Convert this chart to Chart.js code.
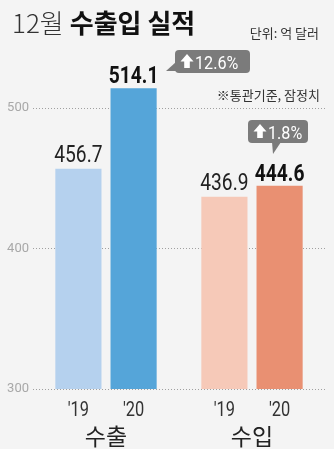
<!DOCTYPE html>
<html>
<head>
<meta charset="utf-8">
<script src="https://cdn.jsdelivr.net/npm/chart.js@4"></script>
<style>
  html, body { margin: 0; padding: 0; background: #f4f4f4; }
  #wrap { width: 334px; height: 449px; position: relative; }
</style>
</head>
<body>
<div id="wrap"><canvas id="c" width="334" height="449"></canvas></div>
<script>
// ── Data ──────────────────────────────────────
const categories = ['수출', '수입'];
const yearLabels = ["'19", "'20"];
const values19 = [456.7, 436.9];
const values20 = [514.1, 444.6];
const changeLabels = ['12.6%', '1.8%'];
const yTicks = [300, 400, 500];

const colors19 = ['#b5d1ee', '#f6c9b8'];
const colors20 = ['#55a5d9', '#e99072'];

const KR = "'Noto Sans CJK KR', 'Noto Sans', sans-serif";
const NUM = "Roboto, 'Noto Sans', sans-serif";

// condensed text helper
function drawNarrow(ctx, text, x, y, font, color, align, sx) {
  ctx.save();
  ctx.font = font;
  ctx.fillStyle = color;
  ctx.textBaseline = 'alphabetic';
  const w = ctx.measureText(text).width * sx;
  let left = x;
  if (align === 'center') left = x - w / 2;
  else if (align === 'right') left = x - w;
  ctx.translate(left, y);
  ctx.scale(sx, 1);
  ctx.textAlign = 'left';
  ctx.fillText(text, 0, 0);
  ctx.restore();
  return w;
}

function roundRect(ctx, x, y, w, h, r) {
  ctx.beginPath();
  ctx.moveTo(x + r, y);
  ctx.lineTo(x + w - r, y);
  ctx.quadraticCurveTo(x + w, y, x + w, y + r);
  ctx.lineTo(x + w, y + h - r);
  ctx.quadraticCurveTo(x + w, y + h, x + w - r, y + h);
  ctx.lineTo(x + r, y + h);
  ctx.quadraticCurveTo(x, y + h, x, y + h - r);
  ctx.lineTo(x, y + r);
  ctx.quadraticCurveTo(x, y, x + r, y);
  ctx.closePath();
}

function upArrow(ctx, x, y) {
  // x,y = top tip
  ctx.beginPath();
  ctx.moveTo(x, y);
  ctx.lineTo(x + 6.5, y + 7.5);
  ctx.lineTo(x + 2.8, y + 7.5);
  ctx.lineTo(x + 2.8, y + 14);
  ctx.lineTo(x - 2.8, y + 14);
  ctx.lineTo(x - 2.8, y + 7.5);
  ctx.lineTo(x - 6.5, y + 7.5);
  ctx.closePath();
  ctx.fillStyle = '#fff';
  ctx.fill();
}

function callout(ctx, bx, by, bw, bh, tail, text) {
  ctx.save();
  ctx.fillStyle = '#7b7b7b';
  roundRect(ctx, bx, by, bw, bh, 4);
  ctx.fill();
  ctx.beginPath();
  ctx.moveTo(tail[0][0], tail[0][1]);
  ctx.lineTo(tail[1][0], tail[1][1]);
  ctx.lineTo(tail[2][0], tail[2][1]);
  ctx.closePath();
  ctx.fill();
  upArrow(ctx, bx + 12, by + 4);
  drawNarrow(ctx, text, bx + 20, by + bh - 4.5, '19px ' + NUM, '#fff', 'left', 0.85);
  ctx.restore();
}

const annotations = {
  id: 'annotations',
  afterDraw(chart) {
    const ctx = chart.ctx;
    const m19 = chart.getDatasetMeta(0).data;
    const m20 = chart.getDatasetMeta(1).data;

    // title
    ctx.save();
    ctx.textBaseline = 'alphabetic';
    ctx.textAlign = 'left';
    ctx.fillStyle = '#333';
    ctx.font = '300 26px ' + KR;
    ctx.fillText('12월', 12, 33);
    const tw = ctx.measureText('12월').width;
    ctx.fillStyle = '#111';
    ctx.font = 'bold 26px ' + KR;
    ctx.fillText('수출입 실적', 12 + tw + 6, 33);
    ctx.font = '13px ' + KR;
    ctx.fillStyle = '#333';
    ctx.textAlign = 'right';
    ctx.fillText('단위: 억 달러', 319, 38);
    ctx.fillText('※통관기준, 잠정치', 320, 100);
    ctx.restore();

    // value labels
    for (let i = 0; i < categories.length; i++) {
      const b19 = m19[i], b20 = m20[i];
      drawNarrow(ctx, values19[i].toFixed(1), b19.x, b19.y - 7, '24px ' + NUM, '#222', 'center', 0.8);
      drawNarrow(ctx, values20[i].toFixed(1), b20.x, b20.y - 5, 'bold 24px ' + NUM, '#111', 'center', 0.8);
      // year labels
      drawNarrow(ctx, yearLabels[0], b19.x, 416, '20px ' + NUM, '#333', 'center', 0.82);
      drawNarrow(ctx, yearLabels[1], b20.x, 416, '20px ' + NUM, '#333', 'center', 0.82);
      // category labels
      ctx.save();
      ctx.font = '23px ' + KR;
      ctx.fillStyle = '#222';
      ctx.textAlign = 'center';
      ctx.textBaseline = 'alphabetic';
      ctx.fillText(categories[i], (b19.x + b20.x) / 2, 445);
      ctx.restore();
    }

    // change callouts
    callout(ctx, 175, 50, 75, 23, [[176, 62], [176, 71], [166, 71]], changeLabels[0]);
    callout(ctx, 248, 120, 60, 23, [[272, 142], [281, 142], [273, 154]], changeLabels[1]);
  }
};

new Chart(document.getElementById('c'), {
  type: 'bar',
  data: {
    labels: categories,
    datasets: [
      { label: yearLabels[0], data: values19, backgroundColor: colors19, borderWidth: 0 },
      { label: yearLabels[1], data: values20, backgroundColor: colors20, borderWidth: 0 }
    ]
  },
  options: {
    responsive: false,
    animation: false,
    devicePixelRatio: 1,
    categoryPercentage: 0.756,
    barPercentage: 0.836,
    layout: { padding: { top: 60, bottom: 60, left: 0, right: 9 } },
    plugins: { legend: { display: false }, tooltip: { enabled: false } },
    scales: {
      x: { display: false },
      y: {
        min: 300,
        max: 534.2,
        afterBuildTicks: (scale) => { scale.ticks = yTicks.map(v => ({ value: v })); },
        afterFit: (scale) => { scale.width = 33; },
        border: { display: false, dash: [1, 2] },
        grid: {
          color: '#a0a0a0',
          lineWidth: 1,
          drawTicks: false
        },
        ticks: {
          padding: 4,
          color: '#a8a8a8',
          font: { family: NUM, size: 13 }
        }
      }
    }
  },
  plugins: [annotations]
});
</script>
</body>
</html>
